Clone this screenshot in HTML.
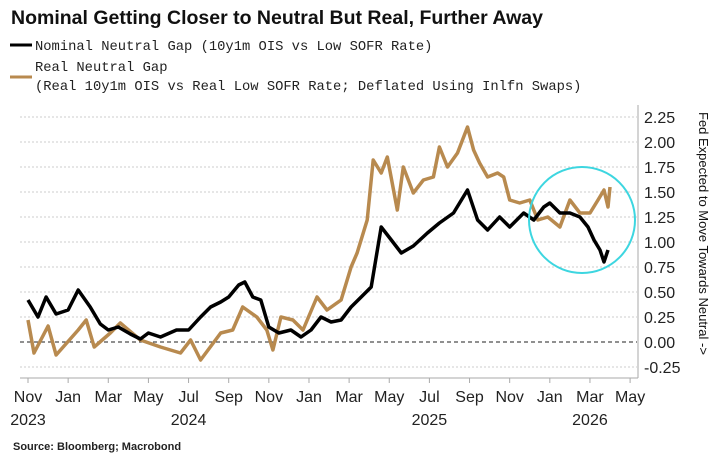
<!DOCTYPE html>
<html><head><meta charset="utf-8"><style>
body{margin:0;background:#fff;width:725px;height:465px;overflow:hidden;font-family:"Liberation Sans",sans-serif}
svg{display:block}
</style></head><body>
<svg id="chart" width="725" height="465" viewBox="0 0 725 465" xmlns="http://www.w3.org/2000/svg">
<text x="11" y="24" font-family="Liberation Sans, sans-serif" font-weight="bold" font-size="19.5" fill="#111">Nominal Getting Closer to Neutral But Real, Further Away</text>
<g font-family="Liberation Mono, monospace" font-size="13.8" fill="#222">
<g><line x1="10" y1="45" x2="32" y2="45" stroke="#000" stroke-width="3"/><text x="35" y="50">Nominal Neutral Gap (10y1m OIS vs Low SOFR Rate)</text></g>
<g><line x1="10" y1="77" x2="32" y2="77" stroke="#b88a4f" stroke-width="3"/><text x="35" y="71">Real Neutral Gap</text><text x="35" y="90">(Real 10y1m OIS vs Real Low SOFR Rate; Deflated Using Inlfn Swaps)</text></g>
</g>
<g id="grid"></g>
<g id="yaxis"></g>
<g id="xaxis"></g>
<g id="series"></g>
<circle cx="582" cy="220" r="53" fill="none" stroke="#3dd6e0" stroke-width="2"/>
<text transform="translate(699,112) rotate(90)" font-family="Liberation Sans, sans-serif" font-size="13" fill="#111">Fed Expected to Move Towards Neutral -&gt;</text>
<text x="13" y="450" font-family="Liberation Sans, sans-serif" font-weight="bold" font-size="11" fill="#222">Source: Bloomberg; Macrobond</text>
</svg>
<script>
// months since Nov 2023
const nominalT=[0,0.5,0.9,1.4,2.0,2.5,3.1,3.6,4.0,4.5,5.1,5.6,6.0,6.6,7.4,8.0,8.6,9.1,9.6,10.0,10.5,10.8,11.2,11.6,12.0,12.5,13.1,13.6,14.1,14.6,15.1,15.6,16.1,16.6,17.1,17.6,18.1,18.6,19.2,19.9,20.5,21.2,21.9,22.4,22.9,23.5,24.0,24.7,25.2,25.7,26.0,26.5,27.0,27.5,27.9,28.2,28.5,28.7,28.9];
const nominalV=[0.42,0.25,0.45,0.28,0.32,0.52,0.35,0.18,0.12,0.15,0.08,0.03,0.09,0.05,0.12,0.12,0.25,0.35,0.40,0.45,0.57,0.60,0.45,0.42,0.15,0.09,0.12,0.05,0.12,0.25,0.20,0.22,0.35,0.45,0.55,1.15,1.02,0.89,0.96,1.09,1.19,1.29,1.52,1.22,1.12,1.25,1.15,1.29,1.22,1.35,1.39,1.29,1.29,1.25,1.15,1.02,0.92,0.80,0.92];
const realT=[0,0.3,1.0,1.4,2.5,2.9,3.3,4.1,4.6,5.6,6.6,7.6,8.1,8.6,9.6,10.2,10.7,11.4,11.9,12.2,12.6,13.2,13.7,14.4,14.9,15.6,16.1,16.4,16.9,17.2,17.6,17.9,18.4,18.7,19.2,19.7,20.2,20.5,20.9,21.4,21.9,22.2,22.5,22.9,23.4,23.7,24.0,24.5,25.0,25.4,25.9,26.5,27.0,27.5,28.0,28.4,28.7,28.9,29.0];
const realV=[0.22,-0.11,0.16,-0.13,0.12,0.22,-0.05,0.09,0.19,0.02,-0.05,-0.11,0.02,-0.18,0.09,0.12,0.35,0.25,0.12,-0.08,0.25,0.22,0.12,0.45,0.32,0.42,0.75,0.89,1.22,1.82,1.69,1.85,1.32,1.75,1.49,1.62,1.65,1.95,1.75,1.89,2.15,1.92,1.79,1.65,1.69,1.65,1.42,1.39,1.42,1.22,1.25,1.15,1.42,1.29,1.29,1.42,1.52,1.35,1.55];
const yTicks=[-0.25,0,0.25,0.5,0.75,1,1.25,1.5,1.75,2,2.25];
const yTickLabels=["-0.25","0.00","0.25","0.50","0.75","1.00","1.25","1.50","1.75","2.00","2.25"];
const xMonths=["Nov","Jan","Mar","May","Jul","Sep","Nov","Jan","Mar","May","Jul","Sep","Nov","Jan","Mar","May"];
const xYears=[[0,"2023"],[8,"2024"],[20,"2025"],[28,"2026"]];

const NS="http://www.w3.org/2000/svg";
const xs=t=>28+20.07*t;
const ys=v=>342-100*v;
function mk(tag,attrs,parent){const e=document.createElementNS(NS,tag);for(const k in attrs)e.setAttribute(k,attrs[k]);parent.appendChild(e);return e;}
const grid=document.getElementById('grid'),yax=document.getElementById('yaxis'),xax=document.getElementById('xaxis'),ser=document.getElementById('series');
yTicks.forEach((v,i)=>{
  const l=mk('line',{x1:20,x2:637,y1:ys(v),y2:ys(v),stroke:v===0?'#222':'#ccc','stroke-width':1,'stroke-dasharray':v===0?'4,3':'2,2'},grid);
  
  
  const t=mk('text',{x:644,y:ys(v)+6,'font-size':16,fill:'#222','font-family':'Liberation Sans, sans-serif'},yax);
  t.textContent=yTickLabels[i];
  
  
});
mk('line',{x1:638,x2:638,y1:105,y2:378,stroke:'#aaa'},yax);
mk('line',{x1:20,x2:638,y1:378,y2:378,stroke:'#aaa'},xax);
xMonths.forEach((m,i)=>{
  const x=xs(i*2);
  mk('line',{x1:x,x2:x,y1:378,y2:383,stroke:'#aaa'},xax);
  const t=mk('text',{x:x,y:402,'text-anchor':'middle','font-size':16,fill:'#222','font-family':'Liberation Sans, sans-serif'},xax);
  t.textContent=m;
  
  
});
xYears.forEach(([mo,y])=>{
  const t=mk('text',{x:xs(mo),y:425,'text-anchor':'middle','font-size':16,fill:'#222','font-family':'Liberation Sans, sans-serif'},xax);
  t.textContent=y;
  
  
});
function line(T,V,color,name){
  const d=T.map((t,i)=>(i?'L':'M')+xs(t).toFixed(1)+','+ys(V[i]).toFixed(1)).join('');
  const p=mk('path',{d:d,fill:'none',stroke:color,'stroke-width':3.5,'stroke-linejoin':'round'},ser);
  
  
}
line(realT,realV,'#b88a4f','real-neutral-gap-line');
line(nominalT,nominalV,'#000','nominal-neutral-gap-line');
</script>
</body></html>
